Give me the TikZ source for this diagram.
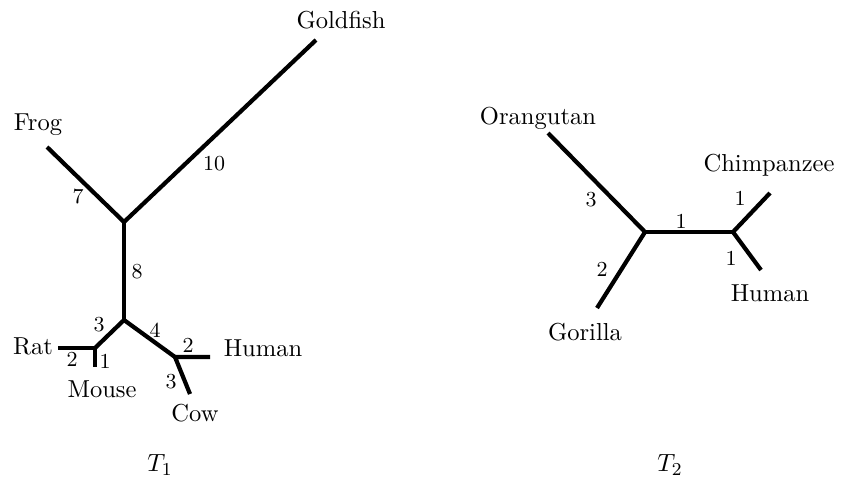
\documentclass[tikz,border=0pt]{standalone}
\begin{document}
\begin{tikzpicture}[x=0.44pt,y=-0.44pt,
  br/.style={line width=1.85pt},
  lbl/.style={inner sep=0pt,font=\fontsize{10.8}{13}\selectfont},
  wl/.style={inner sep=0pt,font=\fontsize{9.4}{11}\selectfont}]
\useasboundingbox (0,0) rectangle (851,477);
% ---------- T1 ----------
\coordinate (A) at (124,222);
\coordinate (B) at (124,320);
\coordinate (C) at (95,348);
\coordinate (D) at (175,357);
\coordinate (gf) at (316,40);
\coordinate (fr) at (47,147);
\coordinate (rat) at (58,348);
\coordinate (mo) at (95,367);
\coordinate (hu) at (210,357);
\coordinate (cw) at (190,394);
\draw[br] (gf) -- (A) -- (fr);
\draw[br] (A) -- (B);
\draw[br] (B) -- (C);
\draw[br] (B) -- (D);
\draw[br] (rat) -- (C) -- (mo);
\draw[br] (hu) -- (D) -- (cw);
\node[lbl] (lgf) at (341,20) {Goldfish};
\node[lbl] (lfr) at (38,125) {Frog};
\node[lbl] (lrat) at (33,346) {Rat};
\node[lbl] (lmo) at (102,389) {Mouse};
\node[lbl] (lhu) at (263,348) {Human};
\node[lbl] (lcw) at (195,413) {Cow};
\node[wl] (w10) at (214,164) {10};
\node[wl] (w7) at (78,197) {7};
\node[wl] (w8) at (137,272) {8};
\node[wl] (w3a) at (99,325) {3};
\node[wl] (w4) at (155,330) {4};
\node[wl] (w2a) at (72,359) {2};
\node[wl] (w1a) at (105,361) {1};
\node[wl] (w2b) at (188,345) {2};
\node[wl] (w3b) at (171,382) {3};
\node[lbl] (t1) at (160,465) {$T_1$};
% ---------- T2 ----------
\coordinate (E) at (645,232);
\coordinate (F) at (733,232);
\coordinate (or) at (548,133);
\coordinate (go) at (597,308);
\coordinate (ch) at (770,193);
\coordinate (hu2) at (761,270);
\draw[br] (or) -- (E) -- (go);
\draw[br] (E) -- (F);
\draw[br] (ch) -- (F) -- (hu2);
\node[lbl] (lor) at (538,118) {Orangutan};
\node[lbl] (lgo) at (585,332) {Gorilla};
\node[lbl] (lch) at (769,165) {Chimpanzee};
\node[lbl] (lhu2) at (770,293) {Human};
\node[wl] (v3) at (591,200) {3};
\node[wl] (v2) at (602,269) {2};
\node[wl] (v1a) at (681,221) {1};
\node[wl] (v1b) at (740,198) {1};
\node[wl] (v1c) at (731,258) {1};
\node[lbl] (t2) at (670,465) {$T_2$};
\end{tikzpicture}
\end{document}
